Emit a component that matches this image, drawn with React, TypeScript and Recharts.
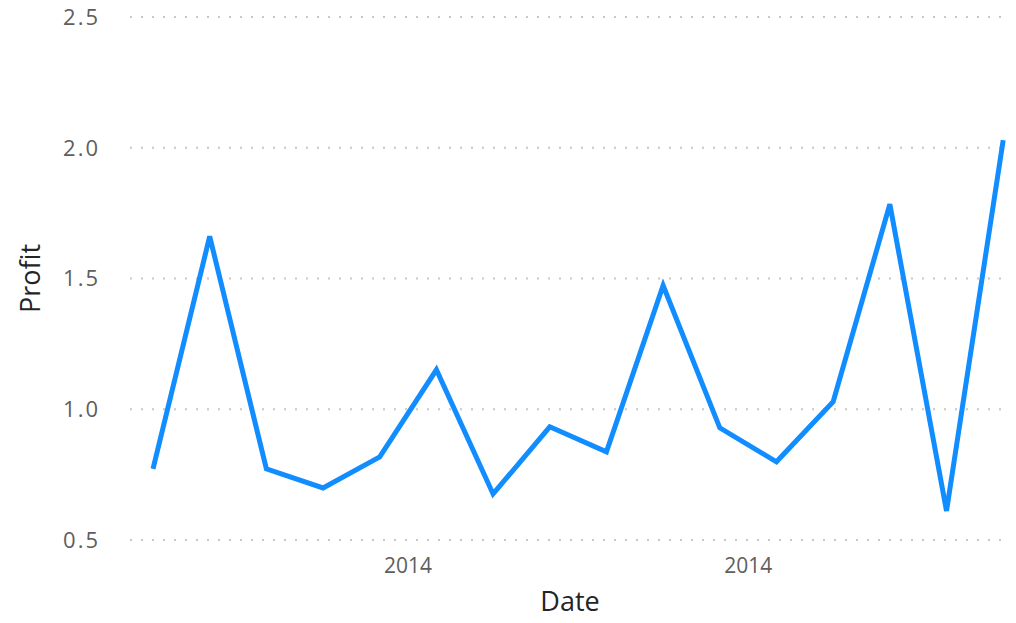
import { LineChart, Line, XAxis, YAxis, CartesianGrid, Label } from 'recharts';

// monthly profit points, left to right
const profit = [
  0.772, 1.661, 0.772, 0.699, 0.818, 1.151, 0.676, 0.933, 0.837, 1.473, 0.929, 0.799, 1.029,
  1.784, 0.611, 2.029,
];
const yTicks = [0.5, 1.0, 1.5, 2.0, 2.5];
const yTickLabels = ['0.5', '1.0', '1.5', '2.0', '2.5'];
const xTickPositions = [4.5, 10.5];
const xTickLabels = ['2014', '2014'];

const data = profit.map((p, i) => ({ i, profit: p }));

const font = "'Open Sans', 'DejaVu Sans', sans-serif";

const App = () => {
  return (
    <div style={{ position: 'absolute', left: 0, top: 0 }}>
      <LineChart width={1016} height={623} data={data} margin={{ top: 17, right: 6, bottom: 53, left: 70 }}>
        <CartesianGrid vertical={false} stroke="#c8c8c8" strokeDasharray="2 9" strokeWidth={2} />
        <XAxis
          dataKey="i"
          type="number"
          domain={[-0.406, 15.12]}
          allowDataOverflow
          ticks={xTickPositions}
          tickFormatter={(v) => xTickLabels[xTickPositions.indexOf(v)] ?? ''}
          axisLine={false}
          tickLine={false}
          tickMargin={12}
          tick={{ fill: '#605e5c', fontSize: 21, fontFamily: font }}
        >
          <Label
            value="Date"
            position="bottom"
            offset={22}
            style={{ fill: '#252423', fontSize: 27, fontFamily: font }}
          />
        </XAxis>
        <YAxis
          type="number"
          domain={[0.5, 2.5]}
          ticks={yTicks}
          tickFormatter={(v) => yTickLabels[yTicks.indexOf(v)] ?? ''}
          width={60}
          axisLine={false}
          tickLine={false}
          tickSize={0}
          tickMargin={30}
          tick={{ fill: '#605e5c', fontSize: 22, fontFamily: font, letterSpacing: 2 }}
        >
          <Label
            content={({ viewBox }: any) => {
              const cx = viewBox.x - 41;
              const cy = viewBox.y + viewBox.height / 2;
              return (
                <text
                  x={cx}
                  y={cy}
                  transform={`rotate(-90 ${cx} ${cy})`}
                  textAnchor="middle"
                  dominantBaseline="central"
                  fill="#252423"
                  fontSize={27}
                  fontFamily={font}
                >
                  Profit
                </text>
              );
            }}
          />
        </YAxis>
        <Line
          type="linear"
          dataKey="profit"
          stroke="#118DFF"
          strokeWidth={5}
          dot={false}
          activeDot={false}
          isAnimationActive={false}
        />
      </LineChart>
    </div>
  );
};

export default App;
